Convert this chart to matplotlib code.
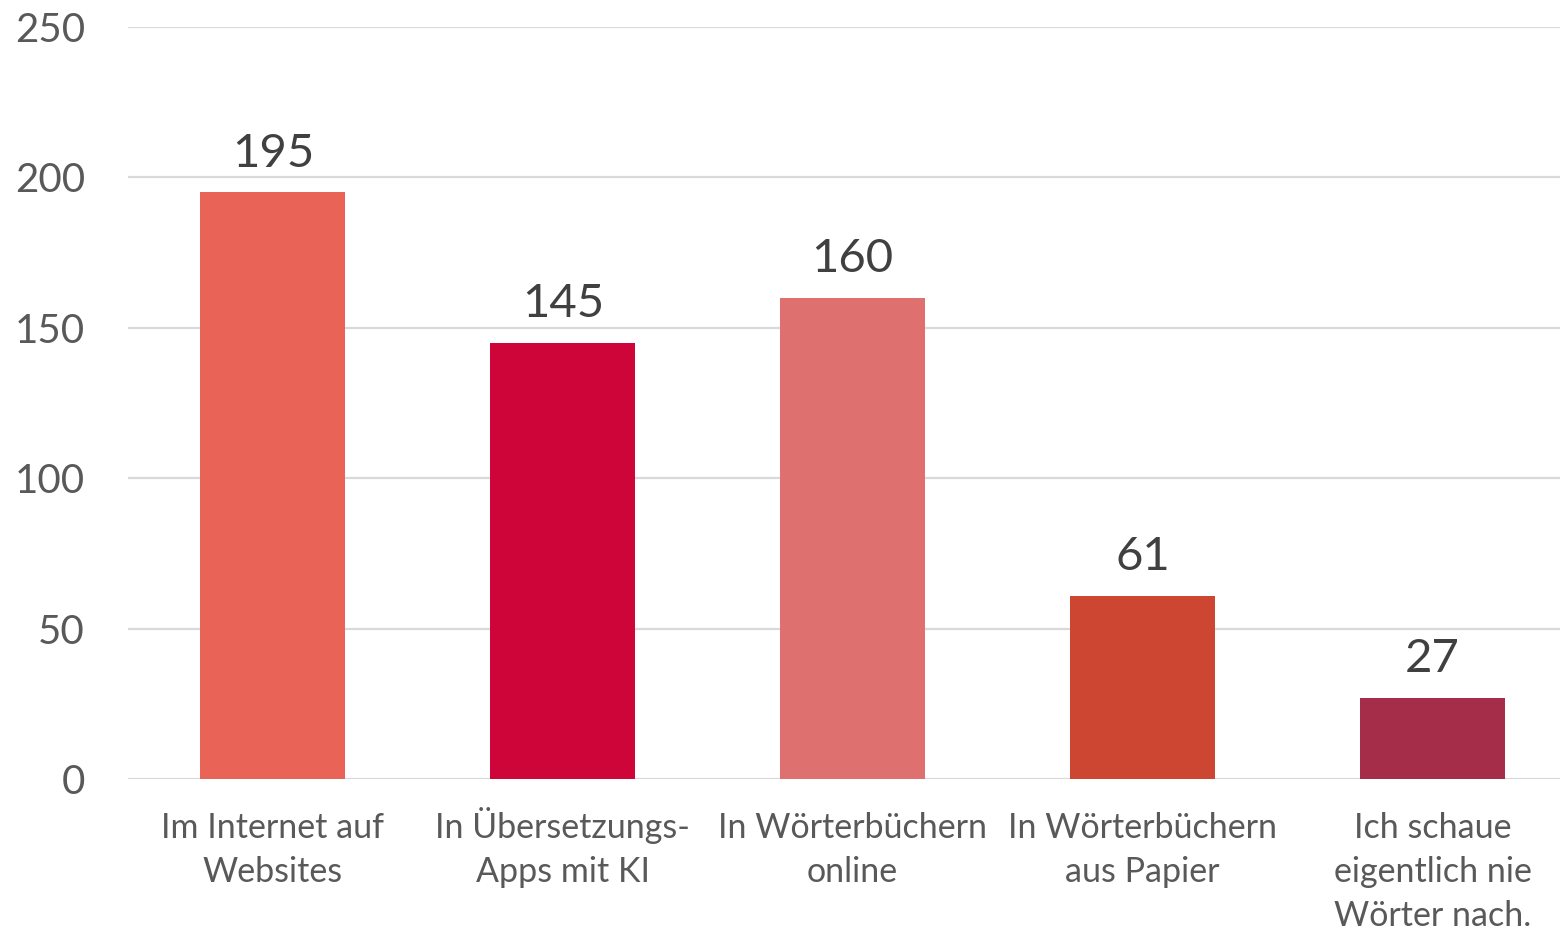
import numpy as np
import matplotlib
matplotlib.use("Agg")
import matplotlib.pyplot as plt

# Data --------------------------------------------------------------
categories = ["Im Internet auf\nWebsites",
              "In Übersetzungs-\nApps mit KI",
              "In Wörterbüchern\nonline",
              "In Wörterbüchern\naus Papier",
              "Ich schaue\neigentlich nie\nWörter nach."]
values = [195, 145, 160, 61, 27]
colors = ["#E96456", "#CE0538", "#DE7070", "#CC4631", "#A52D49"]
yticks = [0, 50, 100, 150, 200, 250]

# Plotting ----------------------------------------------------------
plt.rcParams["font.family"] = ["Lato", "DejaVu Sans"]

fig = plt.figure(figsize=(15.6, 9.31), dpi=100)
ax = fig.add_axes([0.082, 0.163, 0.918, 0.808])

x = np.arange(len(categories))
bars = ax.bar(x, values, width=0.5, color=colors, zorder=3)

# value labels above the bars
for xi, v in zip(x, values):
    ax.annotate(str(v), (xi, v), xytext=(0, 18.5), textcoords="offset points",
                ha="center", va="baseline", fontsize=34, color="#404040")

# category labels, one line at a time so all first lines share a baseline
for xi, cat in zip(x, categories):
    for i, line in enumerate(cat.split("\n")):
        ax.annotate(line, (xi, 0), xycoords=("data", "axes fraction"),
                    xytext=(0, -42.5 - 31.6 * i), textcoords="offset points",
                    ha="center", va="baseline", fontsize=24.5,
                    color="#595959")

ax.set_xlim(-0.5, 4.44)
ax.set_ylim(0, 250)
ax.set_yticks(yticks)
ax.set_yticklabels([str(t) for t in yticks], fontsize=29, color="#595959")
ax.set_xticks([])

ax.tick_params(axis="both", length=0)
ax.tick_params(axis="y", pad=31)
ax.grid(axis="y", color="#D9D9D9", linewidth=1.6, zorder=0)
for s in ax.spines.values():
    s.set_visible(False)

fig.savefig("out.png", dpi=100)
